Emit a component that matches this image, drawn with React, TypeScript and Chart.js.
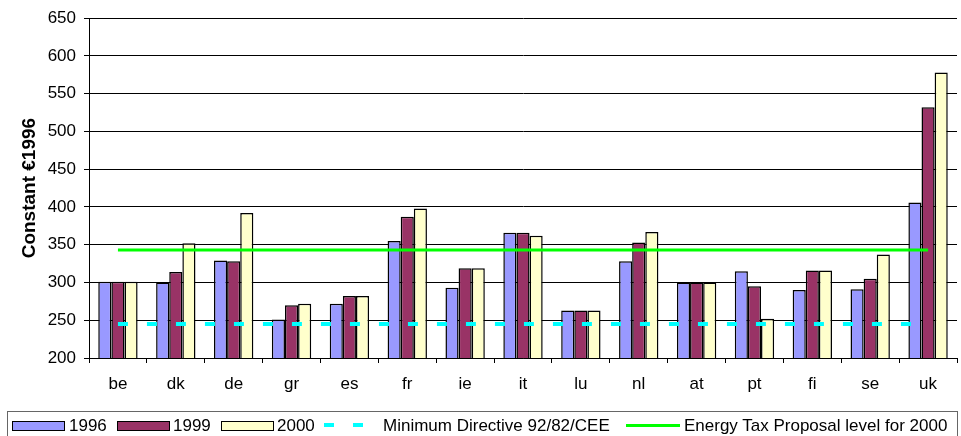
import React, { useEffect, useRef } from "react";
import { Chart, registerables } from "chart.js";

Chart.register(...registerables);

// Countries on the category axis
const countries = ["be", "dk", "de", "gr", "es", "fr", "ie", "it", "lu", "nl", "at", "pt", "fi", "se", "uk"];

// Tax levels in constant €1996
const values1996 = [301, 300, 329, 251, 272, 355, 293, 366, 263, 328, 300, 315, 290, 291, 406];
const values1999 = [301, 314, 328, 270, 282, 387, 319, 366, 263, 353, 300, 295, 316, 305, 532];
const values2000 = [301, 352, 392, 272, 282, 398, 319, 362, 263, 367, 300, 252, 316, 337, 578];

// Reference levels
const minimumDirective = [245, 245, 245, 245, 245, 245, 245, 245, 245, 245, 245, 245, 245, 245, 245];
const energyTaxProposal = [343, 343, 343, 343, 343, 343, 343, 343, 343, 343, 343, 343, 343, 343, 343];

// Value axis range
const yMin = 200;
const yMax = 650;
const yStep = 50;

const seriesNames = ["1996", "1999", "2000"];
const seriesColors = ["#9999FF", "#993366", "#FFFFCC"];
const minimumLabel = "Minimum Directive 92/82/CEE";
const proposalLabel = "Energy Tax Proposal level for 2000";
const yTitle = "Constant €1996";

const FONT = '"Liberation Sans", Arial, sans-serif';

export default function App() {
  const canvasRef = useRef<HTMLCanvasElement | null>(null);

  useEffect(() => {
    const canvas = canvasRef.current;
    if (!canvas) return;
    const seriesValues = [values1996, values1999, values2000];

    const chart = new Chart(canvas, {
      type: "bar",
      data: {
        labels: countries,
        datasets: [
          {
            type: "line",
            label: minimumLabel,
            data: minimumDirective,
            borderColor: "#00FFFF",
            borderWidth: 4,
            borderDash: [10, 19],
            borderCapStyle: "butt",
            pointRadius: 0,
            fill: false,
            order: 0,
          } as any,
          {
            type: "line",
            label: proposalLabel,
            data: energyTaxProposal,
            borderColor: "#00FF00",
            borderWidth: 3,
            pointRadius: 0,
            fill: false,
            order: 0,
          } as any,
          ...seriesNames.map((name, i) => ({
            type: "bar" as const,
            label: name,
            data: seriesValues[i],
            backgroundColor: seriesColors[i],
            borderColor: "#000000",
            borderWidth: 1.5,
            categoryPercentage: 0.68,
            barPercentage: 1,
            order: 1,
          })),
        ],
      },
      options: {
        responsive: false,
        animation: false,
        devicePixelRatio: 1,
        layout: { padding: { top: 17, right: 4, bottom: 38, left: 0 } },
        plugins: {
          legend: { display: false },
          tooltip: { enabled: false },
        },
        scales: {
          x: {
            grid: {
              display: true,
              drawOnChartArea: false,
              drawTicks: true,
              tickLength: 5,
              color: "#000000",
              offset: true,
            },
            border: { display: true, color: "#000000", width: 1 },
            ticks: {
              color: "#000000",
              font: { family: FONT, size: 17 },
              padding: 11,
              maxRotation: 0,
            },
            afterFit: (scale: any) => {
              scale.height = 40;
            },
          },
          y: {
            min: yMin,
            max: yMax,
            ticks: {
              stepSize: yStep,
              color: "#000000",
              font: { family: FONT, size: 17 },
              padding: 8,
            },
            grid: {
              color: "#000000",
              lineWidth: 1,
              tickLength: 5,
            },
            border: { display: true, color: "#000000", width: 1 },
            title: {
              display: true,
              text: yTitle,
              color: "#000000",
              font: { family: FONT, size: 19, weight: "bold" },
              padding: { top: 18, bottom: 0 },
            },
            afterFit: (scale: any) => {
              scale.width = 89;
            },
          },
        },
      },
    });

    return () => chart.destroy();
  }, []);

  const textStyle: React.CSSProperties = {
    position: "absolute",
    top: 417,
    fontFamily: FONT,
    fontSize: 17,
    lineHeight: "17px",
    color: "#000",
    whiteSpace: "nowrap",
  };

  const swatchX = [12, 117, 221];
  const swatchTextX = [69, 173, 277];

  return (
    <div
      style={{
        position: "fixed",
        left: 0,
        top: 0,
        width: 961,
        height: 436,
        overflow: "hidden",
        background: "#ffffff",
      }}
    >
      <canvas
        ref={canvasRef}
        width={961}
        height={436}
        style={{ display: "block", width: 961, height: 436 }}
      />
      <div
        style={{
          position: "absolute",
          left: 7,
          top: 411,
          width: 951,
          height: 40,
          border: "1px solid #666",
          boxSizing: "border-box",
        }}
      />
      {seriesNames.map((name, i) => (
        <React.Fragment key={name}>
          <div
            style={{
              position: "absolute",
              left: swatchX[i],
              top: 421,
              width: 53,
              height: 10,
              boxSizing: "border-box",
              border: "1.5px solid #000",
              background: seriesColors[i],
            }}
          />
          <div style={{ ...textStyle, left: swatchTextX[i] }}>{name}</div>
        </React.Fragment>
      ))}
      <div style={{ position: "absolute", left: 324, top: 423, width: 10, height: 4, background: "#00FFFF" }} />
      <div style={{ position: "absolute", left: 353, top: 423, width: 10, height: 4, background: "#00FFFF" }} />
      <div style={{ ...textStyle, left: 383 }}>{minimumLabel}</div>
      <div style={{ position: "absolute", left: 626, top: 424, width: 54, height: 3, background: "#00FF00" }} />
      <div style={{ ...textStyle, left: 684 }}>{proposalLabel}</div>
    </div>
  );
}
